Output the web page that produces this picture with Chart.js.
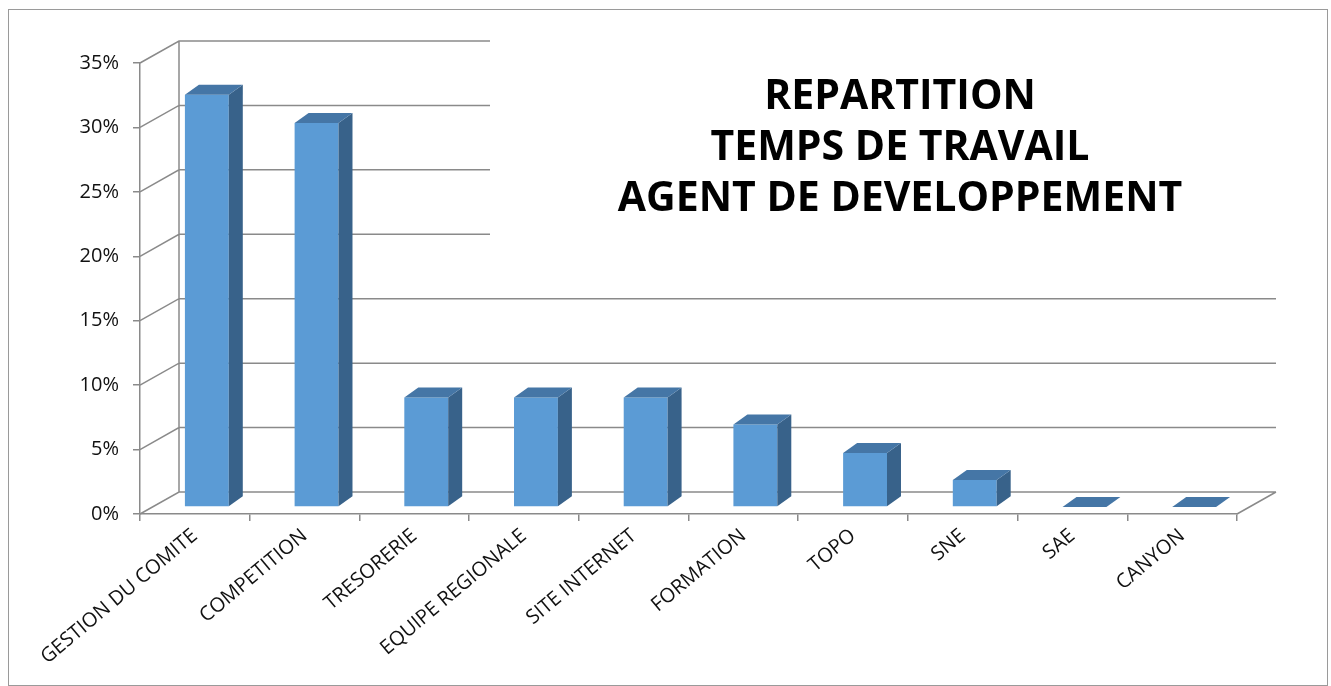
<!DOCTYPE html>
<html>
<head>
<meta charset="utf-8">
<script src="https://cdn.jsdelivr.net/npm/chart.js@4.4.1/dist/chart.umd.min.js"></script>
<style>
  html, body { margin: 0; padding: 0; background: #fff; }
  canvas { display: block; }
</style>
</head>
<body>
<canvas id="chart" width="1331" height="686"></canvas>
<script>
const categories = ['GESTION DU COMITE', 'COMPETITION', 'TRESORERIE', 'EQUIPE REGIONALE',
    'SITE INTERNET', 'FORMATION', 'TOPO', 'SNE', 'SAE', 'CANYON'];
const shares = [0.32, 0.298, 0.085, 0.085, 0.085, 0.064, 0.042, 0.021, 0, 0];
const tickValues = [0, 0.05, 0.10, 0.15, 0.20, 0.25, 0.30, 0.35];
const titleLines = ['REPARTITION', 'TEMPS DE TRAVAIL', 'AGENT DE DEVELOPPEMENT'];

const GRID = '#8a8a8a';
const FRONT = '#5b9bd5';
const SIDE = '#38628a';
const TOP = '#4576a6';
// perspective offsets
const DX = 39, DY = 22;      // back wall
const BX = 12, BY = 7;       // bar front face
const BD = 14, BH = 10;      // bar depth

const frame3d = {
    id: 'frame3d',
    beforeDraw(chart) {
        const ctx = chart.ctx;
        ctx.save();
        ctx.strokeStyle = '#9a9a9a';
        ctx.lineWidth = 1;
        ctx.strokeRect(8.5, 9.5, 1319, 676);
        ctx.restore();
    },
    beforeDatasetsDraw(chart) {
        const { ctx, chartArea: a, scales: { y } } = chart;
        ctx.save();
        ctx.strokeStyle = GRID;
        ctx.lineWidth = 1.5;
        ctx.beginPath();
        tickValues.forEach(v => {
            const py = y.getPixelForValue(v);
            ctx.moveTo(a.left, py);
            ctx.lineTo(a.left + DX, py - DY);
            ctx.lineTo(a.right + DX, py - DY);
        });
        const y0 = y.getPixelForValue(0);
        ctx.moveTo(a.left + DX, y0 - DY);
        ctx.lineTo(a.left + DX, y.getPixelForValue(0.35) - DY);
        ctx.moveTo(a.right, y0);
        ctx.lineTo(a.right + DX, y0 - DY);
        ctx.stroke();

        // title sits on a white box over the back wall
        ctx.fillStyle = '#fff';
        ctx.fillRect(490, 26, 800, 224);
        ctx.fillStyle = '#000';
        ctx.font = 'bold 41px "Open Sans"';
        ctx.textAlign = 'center';
        ctx.textBaseline = 'alphabetic';
        titleLines.forEach((t, i) => ctx.fillText(t, 900, 109 + i * 51));
        ctx.restore();
    },
    beforeDatasetDraw(chart) {
        chart.ctx.save();
        chart.ctx.translate(BX, -BY);
    },
    afterDatasetDraw(chart, args) {
        const ctx = chart.ctx;
        args.meta.data.forEach(el => {
            const { x, y, base, width } = el.getProps(['x', 'y', 'base', 'width'], true);
            const l = x - width / 2, r = x + width / 2;
            ctx.fillStyle = SIDE;
            ctx.beginPath();
            ctx.moveTo(r, y);
            ctx.lineTo(r + BD, y - BH);
            ctx.lineTo(r + BD, base - BH);
            ctx.lineTo(r, base);
            ctx.closePath();
            ctx.fill();
            ctx.fillStyle = TOP;
            ctx.beginPath();
            ctx.moveTo(l, y);
            ctx.lineTo(l + BD, y - BH);
            ctx.lineTo(r + BD, y - BH);
            ctx.lineTo(r, y);
            ctx.closePath();
            ctx.fill();
        });
        ctx.restore();
    }
};

new Chart(document.getElementById('chart'), {
    type: 'bar',
    data: {
        labels: categories,
        datasets: [{
            data: shares,
            backgroundColor: FRONT,
            borderWidth: 0,
            categoryPercentage: 1,
            barPercentage: 0.4
        }]
    },
    options: {
        responsive: false,
        animation: false,
        layout: { padding: { left: 0, right: 94, top: 63, bottom: 0 } },
        plugins: {
            legend: { display: false },
            tooltip: { enabled: false }
        },
        scales: {
            x: {
                grid: { drawOnChartArea: false, tickLength: 7, color: GRID, lineWidth: 1.5 },
                border: { color: GRID, width: 1.5 },
                ticks: {
                    minRotation: 40,
                    maxRotation: 40,
                    padding: 3,
                    color: '#111',
                    font: { family: '"Open Sans"', size: 20 }
                },
                afterFit(s) {
                    s.height = 172;
                    s.paddingLeft = 0;
                    s.paddingRight = 0;
                }
            },
            y: {
                min: 0,
                max: 0.35,
                afterBuildTicks(s) {
                    s.ticks = tickValues.map(v => ({ value: v }));
                },
                grid: { drawOnChartArea: false, tickLength: 7, color: GRID, lineWidth: 1.5 },
                border: { color: GRID, width: 1.5 },
                ticks: {
                    padding: 14,
                    color: '#111',
                    font: { family: '"Open Sans"', size: 20 },
                    callback: v => Math.round(v * 100) + '%'
                },
                afterFit(s) {
                    s.width = 140;
                    s.paddingTop = 0;
                    s.paddingBottom = 0;
                }
            }
        }
    },
    plugins: [frame3d]
});
</script>
</body>
</html>
